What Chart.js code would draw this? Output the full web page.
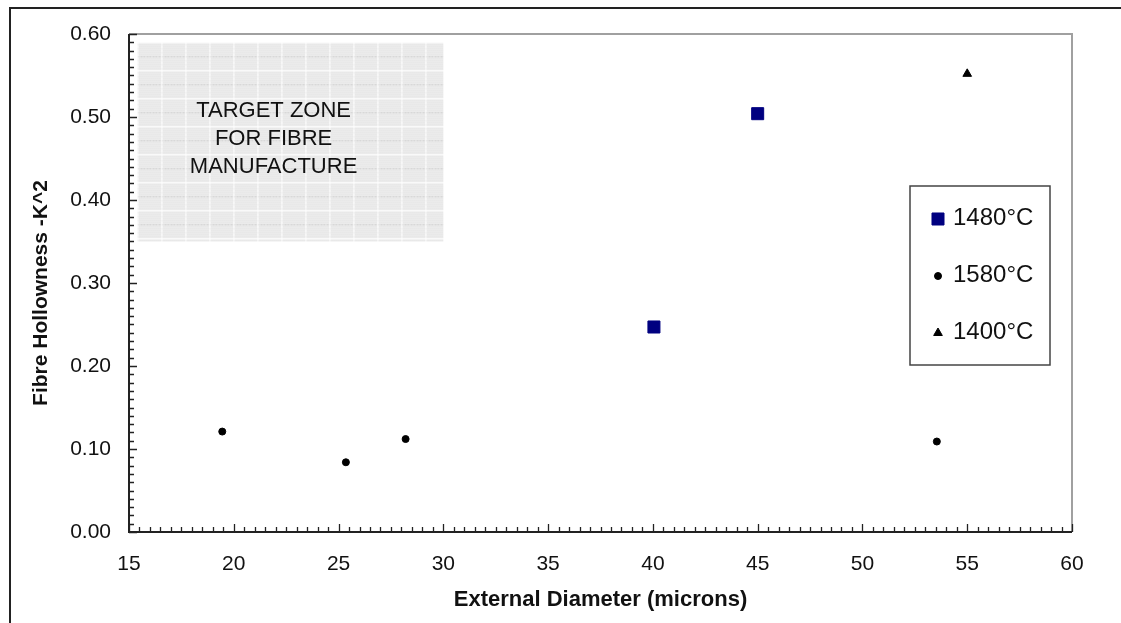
<!DOCTYPE html>
<html>
<head>
<meta charset="utf-8">
<script src="https://cdn.jsdelivr.net/npm/chart.js@4.4.1/dist/chart.umd.min.js"></script>
<style>
    html, body { margin: 0; padding: 0; background: #fff; overflow: hidden; }
    #wrap { position: relative; width: 1121px; height: 623px; }
    #frame { position: absolute; left: 9px; top: 7px; right: -4px; bottom: -4px; border-left: 2px solid #222; border-top: 2px solid #222; }
    canvas { position: absolute; left: 0; top: 0; }
</style>
</head>
<body>
<div id="wrap">
    <div id="frame"></div>
    <canvas id="chart" width="1121" height="623"></canvas>
</div>
<script>
// series values
const seriesNames = ['1480°C', '1580°C', '1400°C'];
const diam1480 = [40.05, 45.0];
const hollow1480 = [0.247, 0.504];
const diam1580 = [19.45, 25.35, 28.2, 53.55];
const hollow1580 = [0.121, 0.084, 0.112, 0.109];
const diam1400 = [55.0];
const hollow1400 = [0.552];

// target zone box
const zoneX = [15.4, 30.0];
const zoneY = [0.35, 0.59];
const zoneText = ['TARGET ZONE', 'FOR FIBRE', 'MANUFACTURE'];

const FONT = "'Liberation Sans', Arial, sans-serif";

function toPoints(xs, ys) {
    return xs.map((x, i) => ({ x: x, y: ys[i] }));
}

// hatched grey fill for the target zone
function zonePattern(ctx) {
    const c = document.createElement('canvas');
    c.width = 24; c.height = 28;
    const p = c.getContext('2d');
    p.fillStyle = '#ededed';
    p.fillRect(0, 0, 24, 28);
    p.fillStyle = '#e2e2e2';
    for (let y = 0; y < 28; y += 2) {
        for (let x = (y / 2) % 2; x < 24; x += 2) p.fillRect(x, y, 1, 1);
    }
    p.fillStyle = '#cfcfcf';
    for (let x = 0; x < 24; x += 3) p.fillRect(x, 14, 2, 1);
    p.fillStyle = '#ffffff';
    p.fillRect(0, 0, 1, 28);
    p.fillRect(0, 0, 24, 1);
    return ctx.createPattern(c, 'repeat');
}

const zonePlugin = {
    id: 'zone',
    beforeDatasetsDraw(chart) {
        const { ctx, scales: { x, y } } = chart;
        const x0 = x.getPixelForValue(zoneX[0]), x1 = x.getPixelForValue(zoneX[1]);
        const y0 = y.getPixelForValue(zoneY[1]), y1 = y.getPixelForValue(zoneY[0]);
        ctx.save();
        ctx.translate(x0, y0);
        ctx.fillStyle = zonePattern(ctx);
        ctx.fillRect(0, 0, x1 - x0, y1 - y0);
        ctx.restore();
        ctx.save();
        ctx.fillStyle = '#111';
        ctx.font = '22px ' + FONT;
        ctx.textAlign = 'center';
        ctx.textBaseline = 'middle';
        const cx = x.getPixelForValue(21.9);
        zoneText.forEach((t, i) => ctx.fillText(t, cx, y.getPixelForValue(0.507) + i * 28));
        ctx.restore();
    }
};

// axis frame, inward tick marks, y title and in-plot legend
const framePlugin = {
    id: 'frame',
    afterDatasetsDraw(chart) {
        const { ctx, chartArea: a, scales: { x, y } } = chart;
        ctx.save();
        ctx.strokeStyle = '#a0a0a0';
        ctx.lineWidth = 2;
        ctx.beginPath();
        ctx.moveTo(a.left, a.top); ctx.lineTo(a.right, a.top); ctx.lineTo(a.right, a.bottom);
        ctx.stroke();
        ctx.strokeStyle = '#222';
        ctx.beginPath();
        ctx.moveTo(a.left, a.top); ctx.lineTo(a.left, a.bottom); ctx.lineTo(a.right, a.bottom);
        ctx.stroke();
        ctx.lineWidth = 1.3;
        ctx.beginPath();
        for (let i = 0; i <= 90; i++) {
            const px = Math.round(x.getPixelForValue(15 + i * 0.5)) + 0.5;
            const len = i % 10 === 0 ? 8 : 5;
            ctx.moveTo(px, a.bottom); ctx.lineTo(px, a.bottom - len);
        }
        for (let i = 0; i <= 60; i++) {
            const py = Math.round(y.getPixelForValue(i * 0.01)) + 0.5;
            const len = i % 10 === 0 ? 8 : 5;
            ctx.moveTo(a.left, py); ctx.lineTo(a.left + len, py);
        }
        ctx.stroke();

        // y axis title
        ctx.save();
        ctx.translate(41, 293);
        ctx.rotate(-Math.PI / 2);
        ctx.font = 'bold 21px ' + FONT;
        ctx.fillStyle = '#111';
        ctx.textAlign = 'center';
        ctx.textBaseline = 'middle';
        ctx.fillText('Fibre Hollowness -K^2', 0, 0);
        ctx.restore();

        // legend box
        const bx = 910, by = 186, bw = 140, bh = 179;
        ctx.strokeStyle = '#444';
        ctx.lineWidth = 1.5;
        ctx.strokeRect(bx, by, bw, bh);
        ctx.font = '24px ' + FONT;
        ctx.textBaseline = 'middle';
        chart.data.datasets.forEach((ds, i) => {
            const cy = by + 32 + i * 57;
            ctx.fillStyle = ds.backgroundColor;
            ctx.strokeStyle = ds.borderColor;
            ctx.lineWidth = 1;
            Chart.helpers.drawPoint(ctx, {
                pointStyle: ds.pointStyle,
                radius: ds.pointRadius,
                borderWidth: 1
            }, bx + 28, cy + 1);
            ctx.fillStyle = '#111';
            ctx.fillText(ds.label, bx + 43, cy);
        });
        ctx.restore();
    }
};

const datasets = [
    { label: seriesNames[0], data: toPoints(diam1480, hollow1480), pointStyle: 'rect', pointRadius: 8.5,
      backgroundColor: '#000080', borderColor: '#000080' },
    { label: seriesNames[1], data: toPoints(diam1580, hollow1580), pointStyle: 'circle', pointRadius: 3.5,
      backgroundColor: '#000', borderColor: '#000' },
    { label: seriesNames[2], data: toPoints(diam1400, hollow1400), pointStyle: 'triangle', pointRadius: 5,
      backgroundColor: '#000', borderColor: '#000' }
];

new Chart(document.getElementById('chart'), {
    type: 'scatter',
    data: { datasets: datasets },
    options: {
        responsive: false,
        animation: false,
        layout: { padding: { left: 0, top: 34, right: 49, bottom: 0 } },
        plugins: {
            legend: { display: false },
            tooltip: { enabled: false }
        },
        elements: { point: { borderWidth: 1, hoverRadius: 0 } },
        scales: {
            x: {
                type: 'linear', min: 15, max: 60,
                grid: { display: false, drawTicks: false },
                border: { display: false },
                ticks: { stepSize: 5, padding: 20, color: '#111', font: { family: FONT, size: 21 } },
                title: { display: true, text: 'External Diameter (microns)', color: '#111',
                         font: { family: FONT, size: 22, weight: 'bold' }, padding: { top: 0, bottom: 10 } },
                afterFit(s) { s.height = 91; }
            },
            y: {
                type: 'linear', min: 0, max: 0.6,
                grid: { display: false, drawTicks: false },
                border: { display: false },
                ticks: { stepSize: 0.1, padding: 18, color: '#111', font: { family: FONT, size: 21 },
                         callback: v => v.toFixed(2) },
                afterFit(s) { s.width = 129; }
            }
        }
    },
    plugins: [zonePlugin, framePlugin]
});
</script>
</body>
</html>
